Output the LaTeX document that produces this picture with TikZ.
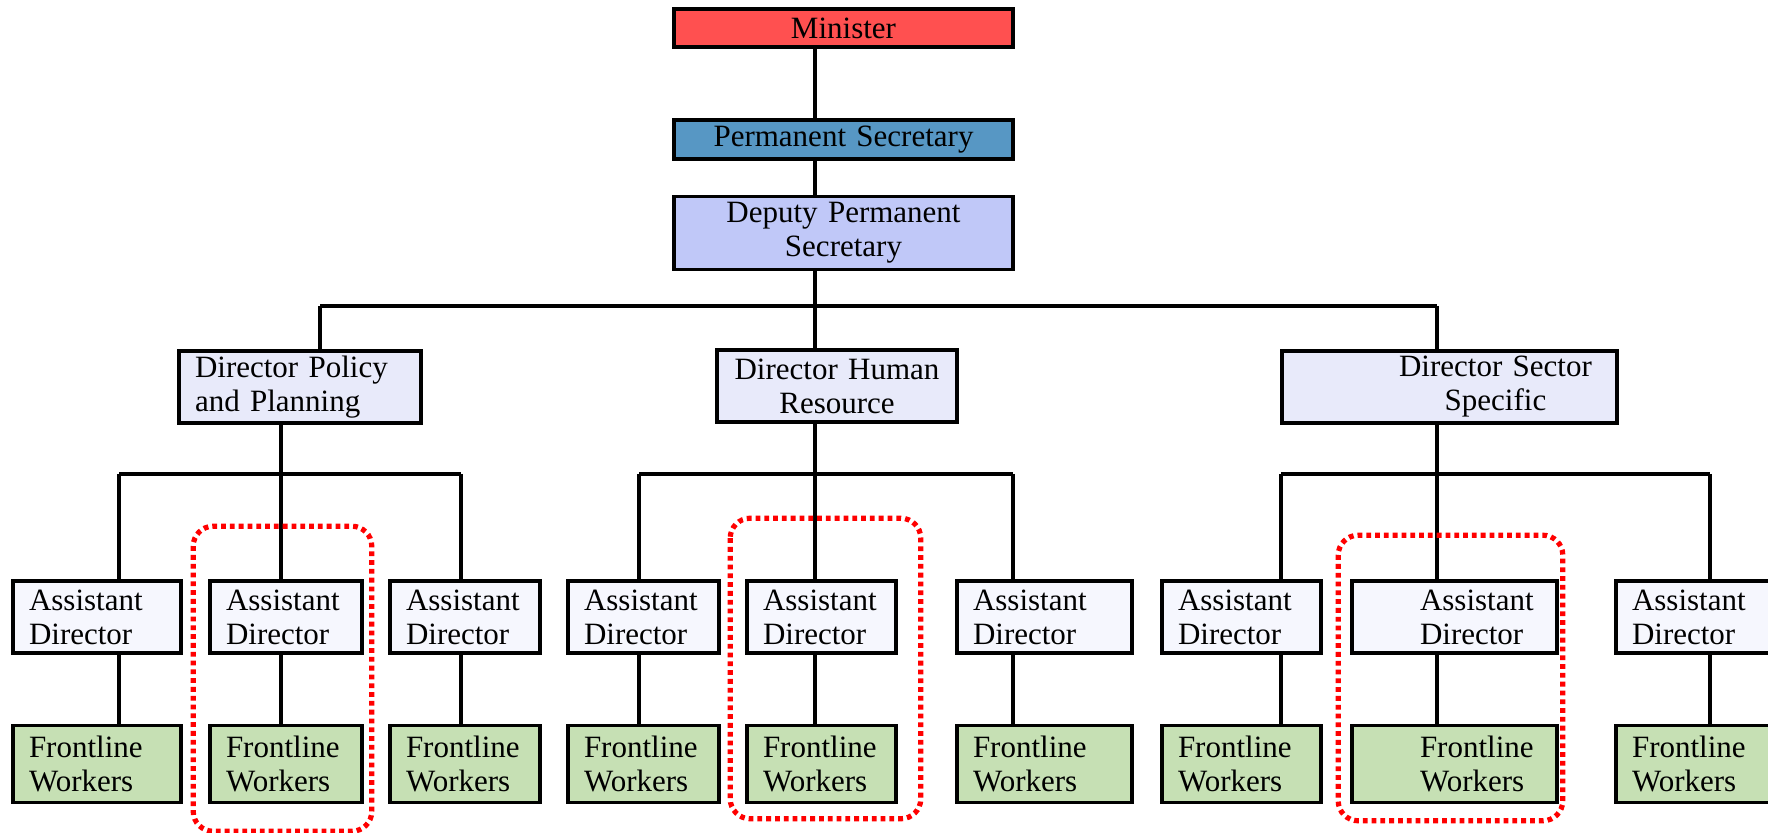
\documentclass[tikz,border=0pt]{standalone}
\usepackage{fontspec}
\setmainfont{Liberation Serif}
\usetikzlibrary{calc}

\definecolor{ministerred}{RGB}{255,80,80}
\definecolor{secblue}{RGB}{87,151,196}
\definecolor{deputyblue}{RGB}{192,200,248}
\definecolor{directorblue}{RGB}{232,234,250}
\definecolor{assistantwhite}{RGB}{246,247,254}
\definecolor{frontgreen}{RGB}{198,224,180}

\tikzset{
  post/.style={draw, line width=1.8pt, inner xsep=8pt, inner ysep=0pt,
    font=\fontsize{15.5}{17}\selectfont},
  link/.style={line width=1.6pt},
  group/.style={red, line width=2.6pt, dash pattern=on 2.4pt off 2pt, rounded corners=10pt}
}

\begin{document}
\begin{tikzpicture}[x=0.5pt,y=-0.5pt]
\useasboundingbox (0,0) rectangle (1768,833);
\clip (0,0) rectangle (1768,833);

% top of the chart
\node[post, fill=ministerred, text width=153.5pt, minimum height=19pt, align=center] (min) at (843.5,28) {Minister};
\node[post, fill=secblue, text width=153.5pt, minimum height=19.5pt, align=center] (ps) at (843.5,139.5) {Permanent Secretary};
\node[post, fill=deputyblue, text width=153.5pt, minimum height=36.5pt, align=center] (dps) at (843.5,233) {Deputy Permanent\\Secretary};

% directors
\node[post, fill=directorblue, text width=105pt, minimum height=36pt, align=left] (dpp) at (300,387) {Director Policy\\and Planning};
\node[post, fill=directorblue, text width=104pt, minimum height=36pt, align=center] (dhr) at (837,386) {Director Human\\Resource};
\node[post, fill=directorblue, text width=151.5pt, minimum height=36pt, align=center] (dss) at (1449.5,387) {\hspace*{46pt}Director Sector\\\hspace*{46pt}Specific};

% assistant directors and frontline workers
\foreach \i/\cx/\tw/\pad in {1/97/68/0, 2/286/60/0, 3/465/59/0, 4/643.5/59.5/0, 5/821.5/58.5/0,
    6/1044.5/71.5/0, 7/1241.5/63.5/0, 8/1454.5/86.5/26, 9/1703/71/0} {
  \node[post, fill=assistantwhite, text width=\tw pt, minimum height=36pt, align=left] (ad\i) at (\cx,617) {\hspace*{\pad pt}Assistant\\\hspace*{\pad pt}Director};
  \node[post, fill=frontgreen, text width=\tw pt, minimum height=38.5pt, align=left] (fw\i) at (\cx,764) {\hspace*{\pad pt}Frontline\\\hspace*{\pad pt}Workers};
}

% connectors
\coordinate (t1) at (320,306);
\coordinate (t2) at (815,306);
\coordinate (t3) at (1437,306);
\draw[link] (min.south -| t2) -- (ps.north -| t2);
\draw[link] (ps.south -| t2) -- (dps.north -| t2);
\draw[link] (dps.south -| t2) -- (t2);
\draw[link] (t1) -- (t3);
\draw[link] (t1) -- (dpp.north -| t1);
\draw[link] (t2) -- (dhr.north -| t2);
\draw[link] (t3) -- (dss.north -| t3);

\foreach \i/\jx in {1/119, 2/281, 3/461, 4/639, 5/815, 6/1013, 7/1281, 8/1437, 9/1710} {
  \coordinate (j\i) at (\jx,474);
  \draw[link] (j\i) -- (ad\i.north -| j\i);
  \draw[link] (ad\i.south -| j\i) -- (fw\i.north -| j\i);
}
\draw[link] (j1) -- (j3);
\draw[link] (j4) -- (j6);
\draw[link] (j7) -- (j9);
\draw[link] (dpp.south -| j2) -- (j2);
\draw[link] (dhr.south -| j5) -- (j5);
\draw[link] (dss.south -| j8) -- (j8);

% red groups
\draw[group] ($(ad2.north west)+(-15,-53)$) rectangle ($(fw2.south east)+(8,27)$);
\draw[group] ($(ad5.north west)+(-15,-61)$) rectangle ($(fw5.south east)+(23,14.5)$);
\draw[group] ($(ad8.north west)+(-12,-44)$) rectangle ($(fw8.south east)+(4,16.5)$);
\end{tikzpicture}
\end{document}
